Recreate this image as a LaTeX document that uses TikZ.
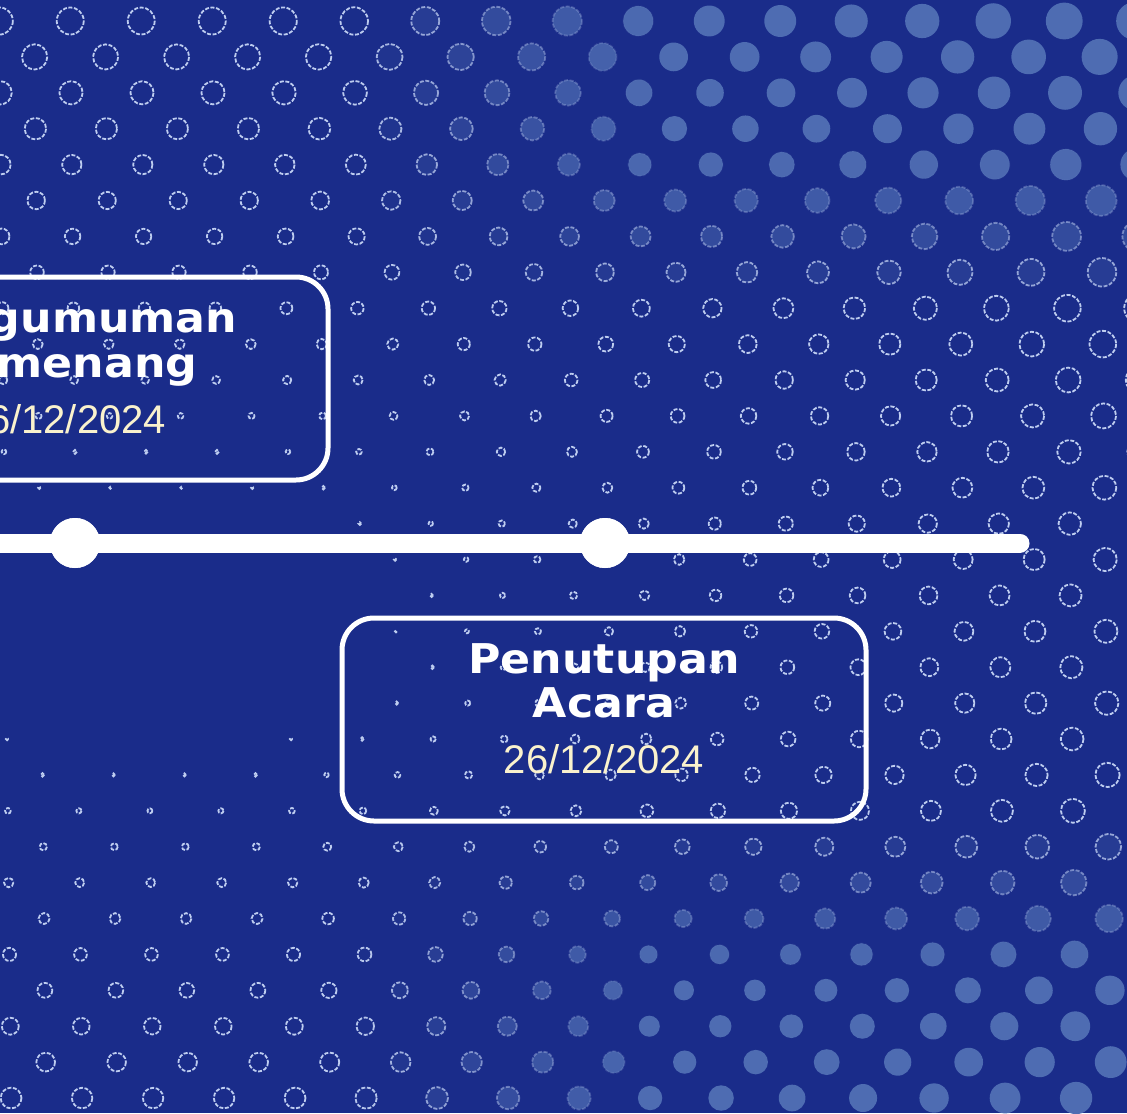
\documentclass[tikz,border=0pt]{standalone}
\usepackage{fontspec}
\newfontfamily\titlefont{DejaVu Sans}[FakeStretch=1.08]
\newfontfamily\datefont{Liberation Sans}
\definecolor{bgc}{RGB}{26,44,138}
\definecolor{dotc}{RGB}{78,108,178}
\definecolor{ringc}{RGB}{190,205,240}
\definecolor{datec}{RGB}{250,242,205}
\begin{document}
\begin{tikzpicture}[x=0.5pt,y=-0.5pt,
  dotfill/.style={fill=dotc},
  dotring/.style={draw=ringc, line width=0.9pt, dash pattern=on 2pt off 0.8pt},
  eventbox/.style={draw=white, line width=2.5pt, rounded corners=16pt,
    minimum width=262pt, minimum height=101.5pt, inner sep=0pt},
  milestone/.style={circle, fill=white, minimum size=25pt, inner sep=0pt},
  titletext/.style={text=white, font=\titlefont\bfseries\fontsize{20.5}{24}\selectfont, anchor=base, inner sep=0pt},
  datetext/.style={text=datec, font=\datefont\fontsize{20}{24}\selectfont, anchor=base, inner sep=0pt},
  timeline/.style={draw=white, line width=9.5pt, line cap=round}
]
\useasboundingbox (0,0) rectangle (1127,1113);
\fill[bgc] (0,0) rectangle (1127,1113);
\begin{scope}
\clip (0,0) rectangle (1127,1113);
% halftone dots
\foreach \j in {0,...,31}{
  \foreach \k in {-1,...,16}{
    \pgfmathsetmacro{\py}{21+35.9*\j}
    \pgfmathsetmacro{\px}{71*\k - 1 + 35*mod(\j,2) + 0.011*\py}
    \pgfmathsetmacro{\dx}{0.55*(\px-150)/100}
    \pgfmathsetmacro{\dy}{(\py-620)/100}
    \pgfmathsetmacro{\dd}{100*sqrt(\dx*\dx+\dy*\dy)}
    \pgfmathsetmacro{\rr}{min(20.5,max(0,0.027*(\dd-100)))}
    \pgfmathsetmacro{\ff}{min(1,max(0,(\px-350)/300))*min(1,max(0,(abs(\py-560)-250)/150))}
    \pgfmathsetmacro{\gg}{1-\ff}
    \ifdim\rr pt>0.8pt
      \fill[dotfill, opacity=\ff] (\px,\py) circle[radius=\rr];
      \draw[dotring, opacity=\gg] (\px,\py) circle[radius=\rr];
    \fi
  }
}
% event boxes
\node[eventbox] (box1) at (66,378.5) {};
\node[eventbox] (box2) at (604,719.5) {};
% timeline
\coordinate (tlstart) at (-20,543);
\coordinate (tlend) at (1020,543);
\node[milestone] (m1) at (75,543) {};
\node[milestone] (m2) at (605,543) {};
\draw[timeline] (tlstart) -- (m1.center) -- (m2.center) -- (tlend);
\node[milestone] at (m1) {};
\node[milestone] at (m2) {};
% texts
\node[titletext] (b1t1) at (66,332) {Pengumuman};
\node[titletext] (b1t2) at (66,377) {Pemenang};
\node[datetext] (b1d) at (66,433) {26/12/2024};
\node[titletext] (b2t1) at (604,673) {Penutupan};
\node[titletext] (b2t2) at (604,717) {Acara};
\node[datetext] (b2d) at (604,773) {26/12/2024};
\end{scope}
\end{tikzpicture}
\end{document}
